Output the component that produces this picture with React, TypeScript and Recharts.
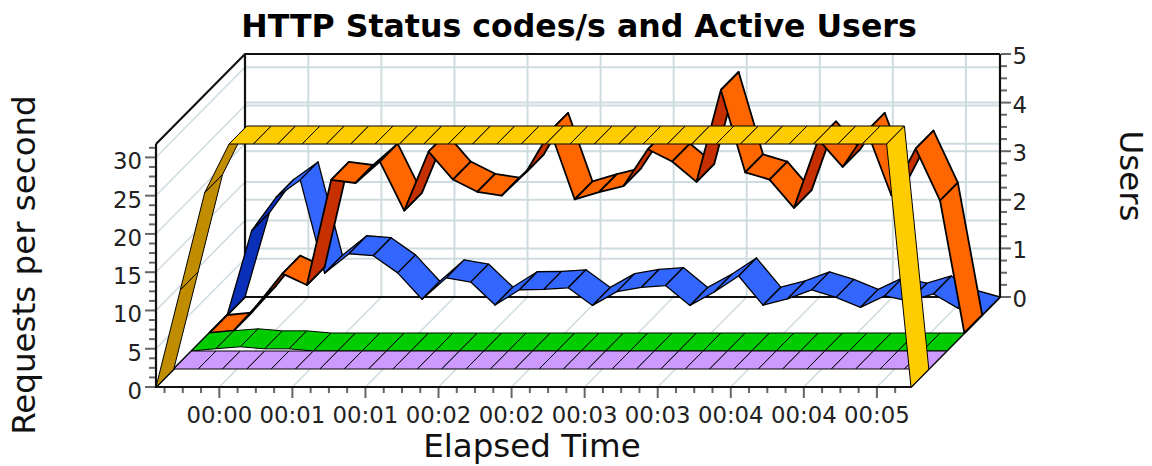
import React from "react";
import { ComposedChart, Line, XAxis, YAxis, Customized } from "recharts";

const activeUsers = [0,2,4,5,5,5,5,5,5,5,5,5,5,5,5,5,5,5,5,5,5,5,5,5,5,5,5,5,5,5,5,0];
const code0 = new Array(32).fill(0);
const code1 = [0,0.3,0.55,0.28,0.28,0,0,0,0,0,0,0,0,0,0,0,0,0,0,0,0,0,0,0,0,0,0,0,0,0,0,0];
const code2 = [0,0.3,3.8,7.75,6.27,20,19.6,22.4,16,23.7,20.05,18.45,17.95,21,26.4,17.45,18.4,19.2,24,22.4,19.75,31.75,21,20.05,16.35,25.3,21.7,26.4,18,24.1,17.3,0];
const code3 = [0,11,15.35,17.65,5.45,8,7.75,5.5,2.05,4.85,4.3,1.3,3.3,3.35,3.55,1.25,3.05,3.6,3.85,1.25,3,5.1,1.28,2.1,3.28,2.3,1,2.5,1.8,2.75,0.9,0];

const xMajorTicks = [2.6,5.6,8.6,11.6,14.6,17.6,20.6,23.6,26.6,29.6];
const xLabels = ["00:00","00:01","00:01","00:02","00:02","00:03","00:03","00:04","00:04","00:05"];
const xMinorTicks = [0.35,1.1,1.85,3.35,4.1,4.85,6.35,7.1,7.85,9.35,10.1,10.85,12.35,13.1,13.85,15.35,16.1,16.85,18.35,19.1,19.85,21.35,22.1,22.85,24.35,25.1,25.85,27.35,28.1,28.85,30.35];
const yMajorTicks = [0,5,10,15,20,25,30];
const yMinorTicks = [1.25,2.5,3.75,6.25,7.5,8.75,11.25,12.5,13.75,16.25,17.5,18.75,21.25,22.5,23.75,26.25,27.5,28.75,31.25];
const userMajorTicks = [0,1,2,3,4,5];
const userMinorTicks = [0.25,0.5,0.75,1.25,1.5,1.75,2.25,2.5,2.75,3.25,3.5,3.75,4.25,4.5,4.75];

const rows = activeUsers.map((u, i) => ({ i, u, a: code0[i], b: code1[i], c: code2[i], d: code3[i] }));

const W = 1152, H = 466;
const LEFT = 156, RIGHT = 911, TOP = 144, BOTTOM = 387;
const DX = 89, DY = 90;
const LAYERS = 5;
const X_MAX = 31, REQ_MAX = 31.72, USER_MAX = 5;
const GRID = "#cfdcdf";
const TICK = "#666666";
const FONT = "'DejaVu Sans', sans-serif";

const sx = (v: number) => LEFT + (v / X_MAX) * (RIGHT - LEFT);
const sReq = (v: number) => BOTTOM - (v / REQ_MAX) * (BOTTOM - TOP);
const sUser = (v: number) => BOTTOM - (v / USER_MAX) * (BOTTOM - TOP);

function ribbon(layer: number, fill: string, dark: string, sw: number) {
  const ox0 = (DX / LAYERS) * layer, oy0 = (DY / LAYERS) * layer;
  const ox1 = (DX / LAYERS) * (layer + 1), oy1 = (DY / LAYERS) * (layer + 1);
  return (props: any) => {
    const { index, points, key } = props;
    const a = points[index], b = points[index + 1];
    if (!b) return <g key={key} />;
    const under = a.y - b.y > (b.x - a.x) * (DY / DX);
    const pts = [
      [a.x + ox0, a.y - oy0], [b.x + ox0, b.y - oy0],
      [b.x + ox1, b.y - oy1], [a.x + ox1, a.y - oy1],
    ].map(p => p.join(",")).join(" ");
    return <polygon key={key} points={pts} fill={under ? dark : fill} stroke="#000" strokeWidth={sw} strokeLinejoin="round" />;
  };
}

const XTick = (props: any) => {
  const x = props.payload.coordinate;
  const idx = xMajorTicks.indexOf(props.payload.value);
  const major = idx >= 0;
  return (
    <g>
      <line x1={x} y1={BOTTOM + 1} x2={x} y2={BOTTOM + (major ? 11 : 6)} stroke={TICK} strokeWidth={2} />
      {major && <text x={x} y={422.5} textAnchor="middle" fontFamily={FONT} fontSize={22.8} fill="#222">{xLabels[idx]}</text>}
    </g>
  );
};

const YTick = (props: any) => {
  const y = props.payload.coordinate;
  const major = yMajorTicks.includes(props.payload.value);
  return (
    <g>
      <line x1={LEFT - 1} y1={y} x2={LEFT - (major ? 11 : 7)} y2={y} stroke={TICK} strokeWidth={2} />
      {major && <text x={142} y={y + 12} textAnchor="end" fontFamily={FONT} fontSize={22.8} fill="#222">{props.payload.value}</text>}
    </g>
  );
};

const UserTick = (props: any) => {
  const y = props.payload.coordinate - DY;
  const major = userMajorTicks.includes(props.payload.value);
  const xr = RIGHT + DX;
  return (
    <g>
      <line x1={xr + 1} y1={y} x2={xr + (major ? 11 : 7)} y2={y} stroke={TICK} strokeWidth={2} />
      {major && <text x={1012.5} y={y + 10} textAnchor="start" fontFamily={FONT} fontSize={22.8} fill="#222">{props.payload.value}</text>}
    </g>
  );
};

const FrameBack = () => (
  <g>
    <g stroke={GRID} strokeWidth={1.5} fill="none">
      {xMajorTicks.map(v => <line key={v} x1={sx(v)} y1={BOTTOM} x2={sx(v) + DX} y2={BOTTOM - DY} />)}
      {yMajorTicks.map(v => <line key={v} x1={LEFT} y1={sReq(v)} x2={LEFT + DX} y2={sReq(v) - DY} />)}
    </g>
    <g stroke={GRID} strokeWidth={2} fill="none">
      {xMajorTicks.map(v => <line key={v} x1={sx(v) + DX} y1={BOTTOM - DY} x2={sx(v) + DX} y2={TOP - DY} />)}
      {yMajorTicks.map(v => <line key={v} x1={LEFT + DX} y1={sReq(v) - DY} x2={RIGHT + DX} y2={sReq(v) - DY} />)}
      {userMajorTicks.map(v => <line key={v} x1={LEFT + DX} y1={sUser(v) - DY} x2={RIGHT + DX} y2={sUser(v) - DY} />)}
    </g>
    <g stroke="#111" strokeWidth={2.2} fill="none">
      <polyline points={`${LEFT},${TOP} ${LEFT + DX},${TOP - DY} ${RIGHT + DX},${TOP - DY}`} />
      <line x1={LEFT + DX} y1={TOP - DY} x2={LEFT + DX} y2={BOTTOM - DY} />
      <line x1={RIGHT + DX} y1={TOP - DY} x2={RIGHT + DX} y2={BOTTOM - DY} />
      <polyline points={`${LEFT},${BOTTOM} ${LEFT + DX},${BOTTOM - DY} ${RIGHT + DX},${BOTTOM - DY} ${RIGHT},${BOTTOM} ${LEFT},${BOTTOM} ${LEFT},${TOP}`} />
    </g>
  </g>
);

const Titles = () => (
  <g fontFamily={FONT} fill="#111">
    <text x={579} y={36.5} textAnchor="middle" fontSize={31.6} fontWeight="bold" fill="#000">HTTP Status codes/s and Active Users</text>
    <text x={532} y={457} textAnchor="middle" fontSize={32.5}>Elapsed Time</text>
    <text transform="translate(35,265) rotate(-90)" textAnchor="middle" fontSize={32.5}>Requests per second</text>
    <text transform="translate(1120,176) rotate(90)" textAnchor="middle" fontSize={32.5}>Users</text>
  </g>
);

export default function App() {
  return (
    <div style={{ position: "absolute", left: 0, top: 0, width: W, height: H, background: "#fff" }}>
      <ComposedChart width={W} height={H} data={rows} margin={{ top: TOP, right: 0, bottom: 0, left: 0 }}>
        <Customized component={FrameBack} />
        <XAxis dataKey="i" type="number" domain={[0, X_MAX]} ticks={[...xMajorTicks, ...xMinorTicks]} interval={0}
          height={H - BOTTOM} axisLine={false} tickLine={false} tickSize={0} tickMargin={0} tick={XTick} />
        <YAxis yAxisId="req" domain={[0, REQ_MAX]} ticks={[...yMajorTicks, ...yMinorTicks]} interval={0}
          width={LEFT} axisLine={false} tickLine={false} tickSize={0} tickMargin={0} tick={YTick} />
        <YAxis yAxisId="users" orientation="right" domain={[0, USER_MAX]} ticks={[...userMajorTicks, ...userMinorTicks]} interval={0}
          width={W - RIGHT} axisLine={false} tickLine={false} tickSize={0} tickMargin={0} tick={UserTick} />
        <Line yAxisId="req" dataKey="d" stroke="none" isAnimationActive={false} activeDot={false} dot={ribbon(4, "#3366ff", "#0a2fb8", 1.3)} />
        <Line yAxisId="req" dataKey="c" stroke="none" isAnimationActive={false} activeDot={false} dot={ribbon(3, "#ff6600", "#c63000", 1.8)} />
        <Line yAxisId="req" dataKey="b" stroke="none" isAnimationActive={false} activeDot={false} dot={ribbon(2, "#00cc00", "#009900", 1)} />
        <Line yAxisId="req" dataKey="a" stroke="none" isAnimationActive={false} activeDot={false} dot={ribbon(1, "#cc99ff", "#9966cc", 1)} />
        <Line yAxisId="users" dataKey="u" stroke="none" isAnimationActive={false} activeDot={false} dot={ribbon(0, "#ffcc00", "#c08c00", 1)} />
        <Customized component={Titles} />
      </ComposedChart>
    </div>
  );
}
